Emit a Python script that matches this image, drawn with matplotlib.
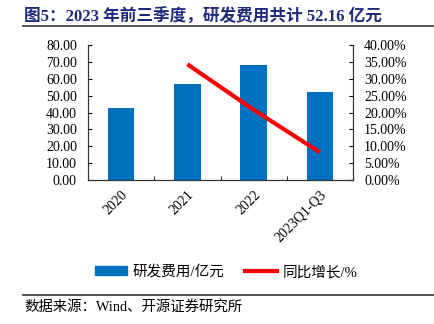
import numpy as np
import matplotlib
matplotlib.use("Agg")
import matplotlib.pyplot as plt
from matplotlib.lines import Line2D
from matplotlib.patches import Patch

years = ["2020", "2021", "2022", "2023Q1-Q3"]
rd_cost = [42.5, 56.7, 68.3, 52.16]  # 亿元
yoy_years = [1, 2, 3]
yoy = [34.3, 20.8, 8.2]  # %

latin_cjk = ["Liberation Serif", "Noto Sans CJK SC"]
plt.rcParams["font.family"] = latin_cjk

fig = plt.figure(figsize=(4.34, 3.24), dpi=100)
ax = fig.add_axes([88/434, 1-180/324, 265/434, 135/324])
ax2 = ax.twinx()

x = np.arange(len(years))
ax.bar(x, rd_cost, width=0.4, color="#0070C0", zorder=2)
ax2.plot(yoy_years, yoy, color="#FF0000", lw=3, solid_capstyle="butt", zorder=3)

ax.set_xlim(-0.5, 3.5)
ax.set_ylim(0, 80)
ax.set_yticks(np.arange(0, 81, 10))
ax.set_yticklabels([f"{v:.2f}" for v in np.arange(0, 81, 10)], fontsize=10)
ax2.set_ylim(0, 40)
ax2.set_yticks(np.arange(0, 41, 5))
ax2.set_yticklabels([f"{v:.2f}%" for v in np.arange(0, 41, 5)], fontsize=10)

ax.set_xticks(x)
ax.set_xticklabels(years, rotation=45, ha="right", rotation_mode="anchor", fontsize=10)
ax.set_xticks([0.5, 1.5, 2.5], minor=True)
ax.tick_params(axis="x", which="major", length=0, pad=6)
ax.tick_params(axis="x", which="minor", direction="in", length=3)
ax.tick_params(axis="y", direction="in", length=3, pad=8)
ax2.tick_params(axis="y", direction="in", length=3, pad=8)

for a in (ax, ax2):
    a.spines["top"].set_visible(False)
    for s in ("left", "right", "bottom"):
        a.spines[s].set_color("#333333")
        a.spines[s].set_linewidth(0.8)

fig.text(24/434, 1-17/324, "图5：2023 年前三季度，研发费用共计 52.16 亿元",
         fontsize=12, fontweight="bold", color="#1F2A7A", va="center", ha="left")
fig.add_artist(Line2D([23/434, 1], [1-26/324, 1-26/324], color="#333333", lw=1.2))
fig.add_artist(Line2D([23/434, 1], [1-295/324, 1-295/324], color="#333333", lw=1.2))
fig.text(24/434, 1-307/324, "数据来源：Wind、开源证券研究所", fontsize=10.4, va="center", ha="left")

handles = [Patch(color="#0070C0"), Line2D([], [], color="#FF0000", lw=3)]
fig.legend(handles, ["研发费用/亿元", "同比增长/%"], loc="center", bbox_to_anchor=(0.522, 1-272/324),
           ncol=2, frameon=False, fontsize=10.5, handlelength=2.2, handleheight=0.55,
           columnspacing=1.4, handletextpad=0.4)

fig.savefig("out.png", dpi=100)
